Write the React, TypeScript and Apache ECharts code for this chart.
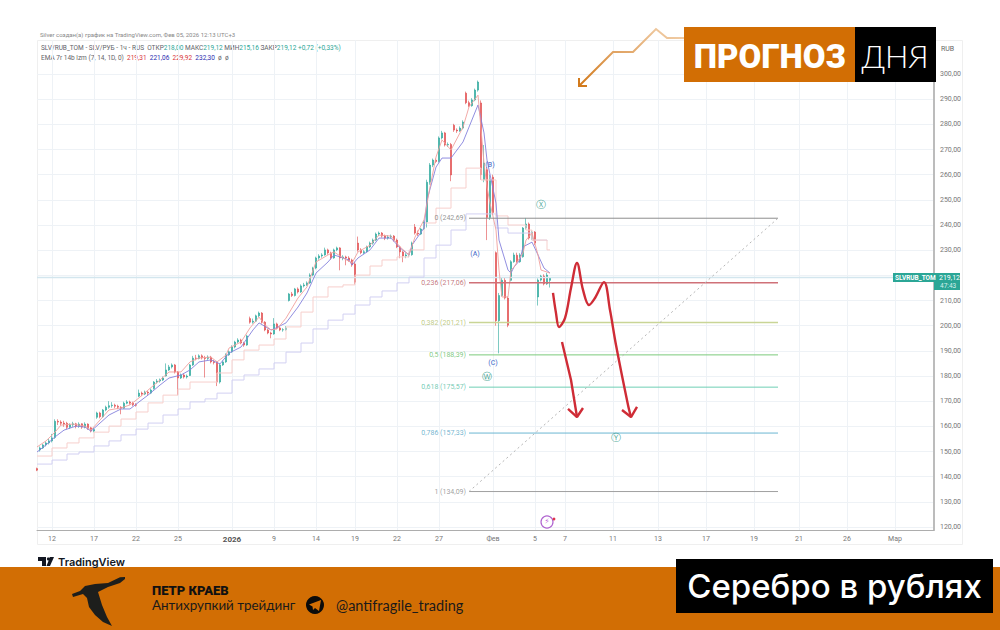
import React, { useEffect, useRef } from "react";
import * as echarts from "echarts";

const BAR_SLOTS = 300;
const tickLabels = ["12", "17", "22", "25", "2026", "9", "14", "19", "22", "27", "Фев", "5", "7", "11", "13", "17", "19", "21", "26", "Мар"];
const tickBars = [5, 19, 33, 47, 65, 79, 93, 106, 120, 134, 152, 166, 176, 192, 207, 223, 239, 254, 270, 286];
const priceTicks = [120, 130, 140, 150, 160, 170, 180, 190, 200, 210, 220, 230, 240, 250, 260, 270, 280, 290, 300];
const hiddenPriceLabel = 220; // covered by the price tag in the reference

// [open, close, low, high]
const decemberCandles = [
  [143.2,142.6,142.2,143.6],[150.6,151.4,150.0,152.0],[151.4,152.6,151.0,153.0],[152.6,153.4,152.0,154.0],[153.4,154.2,152.8,155.0],
  [154.2,155.4,153.6,157.0],[155.6,162.0,155.0,162.8],[162.0,161.7,160.5,162.8],[161.7,161.2,160.4,162.4],[161.3,160.9,159.8,162.2],
  [161.2,159.6,158.8,161.8],[159.6,160.6,159.0,161.2],[160.6,161.0,159.8,161.8],[161.0,160.0,159.2,161.4],[160.0,160.9,159.4,161.6],
  [161.0,159.7,159.0,161.2],[159.7,160.9,159.2,161.6],[160.9,159.4,158.6,161.2],[159.4,158.1,157.6,159.8],[158.1,158.7,157.6,159.4],
  [163.6,165.3,163.0,165.8],[165.3,163.8,163.2,165.8],[163.8,166.5,163.4,166.9],[166.5,167.6,166.0,168.2],[167.6,168.2,167.0,170.0],
  [168.2,168.4,167.4,169.6],[168.4,168.0,167.2,169.0],[168.0,167.6,166.8,168.6],[167.6,167.2,164.8,168.0],[167.2,169.2,167.0,169.8],
  [169.2,169.7,168.8,170.4],[169.7,169.2,168.6,170.2],[169.2,168.6,168.0,169.8],[168.6,168.4,167.8,169.2],[172.0,173.2,171.6,174.6],
  [173.2,172.8,172.0,173.8],[172.8,173.6,172.4,174.2],[173.6,173.2,172.4,174.0],[173.2,174.4,172.8,175.0],[175.0,177.6,174.6,178.0],
  [177.6,178.0,177.0,178.8],[178.0,178.4,177.4,179.0],[178.4,179.2,178.0,179.8],[180.0,182.4,179.8,185.0],[182.4,183.6,182.0,184.4],
  [183.6,184.4,183.0,185.0],[184.4,181.6,181.0,184.8],[181.6,179.2,172.4,182.0],[179.2,180.4,178.8,181.0],[180.4,179.6,179.0,181.0],
  [179.6,180.0,179.0,180.6],[180.2,184.4,180.0,184.8],[184.4,187.1,184.0,188.0],[187.1,187.0,186.2,188.4],[187.0,188.0,186.6,188.6],
  [188.0,187.2,186.6,188.6],[187.2,187.0,179.4,188.0],[187.0,187.5,186.4,188.2],[187.5,185.6,185.0,188.0],[185.6,185.4,184.6,186.4],
  [185.4,177.6,176.0,186.0],[177.6,184.4,177.0,185.0],[184.4,185.6,184.0,186.2],[185.6,188.4,185.2,189.0],[188.4,189.6,188.0,190.2],
];
const januaryCandles = [
  [189.6,191.5,189.2,192.2],[191.5,193.5,191.0,194.0],[193.5,194.3,193.0,195.0],[194.3,193.1,192.6,194.8],[193.1,192.3,191.6,193.6],
  [192.3,195.9,192.0,196.4],[202.8,201.4,200.8,203.6],[201.4,201.8,200.8,202.8],[201.8,203.9,201.4,204.4],[203.9,205.0,203.4,205.6],
  [205.0,201.4,200.8,205.4],[201.4,198.3,197.8,201.8],[198.3,197.1,196.6,198.8],[197.1,196.7,195.0,197.6],[196.7,200.7,196.4,203.0],
  [200.7,199.1,198.6,201.2],[199.1,198.3,197.8,199.6],[198.3,198.4,197.6,199.0],[198.4,199.1,198.0,199.8],[210.0,212.6,209.6,213.0],
  [212.6,212.0,211.4,213.4],[212.0,214.6,211.6,215.0],[214.6,213.4,212.8,215.2],[213.4,215.8,213.0,216.4],[215.8,216.2,215.2,217.0],
  [216.2,217.0,215.8,217.6],[217.0,220.1,216.6,220.8],[220.1,222.9,219.6,223.4],[222.9,226.9,222.4,227.4],[226.9,227.7,226.2,228.4],
  [227.7,228.1,227.0,228.8],[228.1,230.1,227.8,231.0],[230.1,228.9,228.2,230.6],[228.9,226.9,226.2,229.4],[226.9,230.1,226.6,230.6],
  [230.1,230.9,229.6,231.4],[230.9,226.9,222.0,231.2],[226.9,227.3,226.0,228.0],[227.3,226.9,224.0,227.8],[226.9,226.1,225.4,227.6],
  [226.1,224.1,223.4,226.6],[224.5,217.3,216.4,225.4],[232.8,230.1,229.4,235.4],[230.1,229.0,228.4,230.8],[229.0,229.4,228.4,230.0],
  [229.4,231.3,229.0,231.8],[231.3,232.8,230.8,233.4],[232.8,234.0,232.2,234.6],[234.0,236.4,233.6,237.0],[236.4,236.8,235.6,237.4],
  [236.8,235.6,235.0,237.2],[235.6,234.8,234.0,236.2],[234.8,235.2,234.2,236.0],[235.2,235.6,234.6,236.2],[235.6,234.0,233.4,236.0],
  [234.0,231.3,230.8,234.6],[231.3,229.3,226.8,231.8],[229.3,227.7,225.2,229.8],[227.7,228.1,226.8,228.8],[228.1,228.2,227.2,229.0],
  [228.2,232.8,227.8,233.4],[239.2,236.8,236.2,240.4],[236.8,236.4,235.6,237.8],[236.4,238.4,236.0,238.8],[238.4,241.2,238.0,241.8],
  [241.2,257.0,239.0,258.0],[257.0,263.8,256.0,264.6],[263.8,265.8,263.0,266.4],[265.8,265.2,264.6,266.4],[265.2,274.6,264.8,275.2],
  [274.6,276.6,274.0,277.4],[276.6,271.8,271.2,277.0],[271.8,272.0,271.0,272.8],[272.0,259.9,257.4,272.6],[279.6,277.7,277.0,280.2],
  [277.7,277.4,276.6,278.4],[277.4,278.5,277.0,279.2],[278.5,280.9,278.0,281.6],[292.4,288.6,288.0,293.0],[288.6,287.4,286.8,289.4],
  [287.4,289.7,287.0,290.4],[289.7,293.6,289.2,294.2],[293.6,296.8,293.0,297.4],
];
const februaryCandles = [
  [288.5,260.0,258.0,289.5],[258.0,264.6,257.0,271.8],[262.0,243.0,234.0,263.0],[243.0,258.0,242.0,260.0],[259.0,245.0,244.0,260.0],
  [229.0,202.0,200.0,229.5],[202.0,212.0,189.0,213.0],[212.0,218.0,211.6,219.0],[218.0,211.0,210.4,219.0],[211.0,200.2,199.4,211.6],
  [218.0,225.4,217.6,226.0],[225.4,228.1,225.0,229.0],[228.0,225.4,224.8,229.0],[225.4,228.1,225.0,228.8],[227.4,238.8,227.0,239.2],
  [238.8,240.4,238.2,242.8],[240.4,234.8,234.2,241.0],[234.4,237.2,234.0,237.8],[237.2,232.8,232.0,237.6],[211.4,218.1,208.0,218.8],
  [218.1,219.7,217.6,220.2],[219.7,216.6,216.0,220.4],[216.6,220.1,216.2,221.0],[218.0,219.12,215.16,219.12],
];

// [bar, price]
const emaFast = [
  [0,151.8],[3,154.2],[6,157.7],[8,160.5],[12,160.9],[16,160.1],[18,158.5],[21,162.5],[24,166.5],[28,167.3],[31,168.5],[34,171.3],[37,174.4],
  [41,178.4],[44,181.6],[48,181.6],[51,185.6],[54,187.2],[58,187.5],[60,185.6],[63,188.3],[64,191.1],[68,193.5],[71,199.1],[74,203.4],[76,200.3],
  [78,198.3],[80,198.7],[83,203.0],[87,211.0],[90,215.4],[93,225.3],[97,228.1],[99,229.3],[102,226.9],[105,224.9],[107,229.3],[111,232.0],[114,236.0],
  [118,235.6],[121,231.3],[124,228.1],[126,235.2],[129,242.0],[131,255.1],[133,267.0],[135,273.8],[138,269.8],[142,278.9],[144,286.9],[147,291.6],
  [149,264.6],[150,255.1],[151,248.7],[153,238.0],[154,222.1],[155,211.4],[157,211.4],[158,222.1],[159,223.3],[162,228.9],[163,234.0],[165,236.8],
  [167,228.1],[168,222.1],[171,220.9],
];
const emaSlow = [
  [0,149.8],[3,152.6],[6,155.8],[9,158.5],[13,160.1],[16,159.7],[18,158.1],[21,161.3],[24,164.5],[28,166.9],[31,166.9],[34,169.7],[37,172.4],
  [41,176.4],[44,179.2],[48,180.4],[51,182.4],[54,185.6],[58,186.4],[61,184.8],[64,189.1],[68,191.5],[72,198.3],[74,201.1],[78,198.3],[79,198.7],
  [83,201.1],[87,207.4],[90,213.0],[93,220.9],[97,225.3],[99,228.1],[104,226.1],[105,224.1],[107,226.9],[111,230.1],[114,234.8],[118,234.8],[121,230.9],
  [124,228.1],[125,232.0],[129,238.8],[130,249.9],[133,263.0],[135,266.6],[138,266.6],[142,273.0],[144,278.9],[147,287.7],[149,276.6],[150,265.8],
  [153,248.7],[154,234.0],[157,222.1],[158,220.9],[159,223.3],[161,226.1],[162,231.3],[165,233.2],[167,228.1],[169,222.9],[171,220.9],
];
const stepWeekly = [
  [0,148.2],[5,151.4],[10,153.4],[14,155.4],[19,157.7],[24,160.1],[28,162.9],[33,165.7],[37,169.3],[42,172.4],[47,174.8],[51,177.6],[60,181.2],[65,186.4],
  [69,190.3],[74,192.3],[79,194.7],[83,199.5],[88,205.4],[92,211.4],[97,215.4],[102,216.2],[106,220.1],[111,223.7],[115,226.1],[120,227.3],[124,230.1],
  [129,240.8],[133,246.7],[138,254.7],[143,262.6],[148,257.9],[153,243.6],[157,240.0],[163,238.0],[165,234.0],[170,230.1],[171,230.1],
];
const stepMonthly = [
  [0,145.0],[5,146.6],[10,149.0],[14,149.8],[19,152.2],[24,154.2],[28,156.6],[33,158.9],[37,161.3],[42,164.5],[47,166.9],[51,169.7],[56,170.9],[60,173.2],[65,178.4],
  [69,180.4],[74,182.8],[79,185.2],[83,189.5],[88,193.1],[92,198.7],[97,202.2],[102,204.6],[106,208.2],[111,211.4],[115,213.8],[120,217.0],[124,219.3],
  [129,226.9],[133,232.0],[138,238.0],[143,244.4],[153,238.8],[157,236.8],[165,234.0],[170,233.6],
];

const fibRatios = ["0", "0,236", "0,382", "0,5", "0,618", "0,786", "1"];
const fibPrices = [242.69, 217.06, 201.21, 188.39, 175.57, 157.33, 134.09];
const fibColors = ["#8e8e8e", "#cf7178", "#c9d596", "#7ccb7c", "#6fcfb4", "#6cb6d2", "#a0a0a0"];
const fibLabelColors = ["#777777", "#b4535b", "#aebb63", "#62bb62", "#4fbd9f", "#4fa3c4", "#888888"];
const fibStartBar = 144;
const fibEndBar = 247;
const lastPrice = 219.12;

const forecastCurve = [[172,213.0],[173,205.0],[174,199.5],[176,203.0],[178,215.0],[180,224.9],[182,214.2],[184,208.2],[186,211.0],[189,217.3],[191,206.2],[193,192.3],[197,168.5],[198,163.7]];
const forecastCurveHead = [[195,166.5],[198,163.7],[200,167.7]];
const forecastShort = [[175,193.5],[178,178.4],[180,163.7]];
const forecastShortHead = [[177,166.9],[180,163.7],[182,167.3]];

const waveLetters = [["(A)", 146, 228.5], ["(B)", 151, 263.8], ["(C)", 152, 185.2]];
const waveCircled = [["Ⓦ", 150, 180.0], ["Ⓧ", 168, 248.0], ["Ⓨ", 193, 155.4]];
const eventMark = [170, 122.0];

const legendTitle = "SLV/RUB_TOM - SLV/РУБ - 1ч - RUS";
const legendOhlc = ["218,00", "219,12", "215,16", "219,12", "+0,72 (+0,33%)"];
const legendEma = ["219,31", "221,06", "229,92", "232,30"];

const ORANGE = "#d26e04";

function line(name: string, data: number[][], color: string, width: number, extra: object = {}) {
  return { name, type: "line", data, symbol: "none", silent: true, lineStyle: { color, width }, ...extra };
}

export default function App() {
  const ref = useRef<HTMLDivElement>(null);
  useEffect(() => {
    document.body.style.margin = "0";
    document.body.style.background = "#fff";
    const chart = echarts.init(ref.current!, undefined, { renderer: "svg" });
    const categories = Array.from({ length: BAR_SLOTS }, () => "");
    tickBars.forEach((b, k) => (categories[b] = tickLabels[k]));
    const isTick = (i: number) => categories[i] !== "";
    const candles = [...decemberCandles, ...januaryCandles, ...februaryCandles];
    const fibSeries = fibPrices.map((p, k) =>
      line("fib" + k, [[fibStartBar, p], [fibEndBar, p]], fibColors[k], k === 1 || k === 2 ? 1.5 : 1, { z: 3 })
    );
    const f = { fontFamily: "Roboto", fontSize: 6.5 };
    chart.setOption({
      animation: false,
      backgroundColor: "#ffffff",
      grid: { left: 37, top: 40, width: 897, height: 490, containLabel: false },
      xAxis: {
        type: "category",
        data: categories,
        boundaryGap: false,
        axisTick: { show: false },
        axisLine: { show: true, lineStyle: { color: "#adadad", width: 1 } },
        axisLabel: {
          interval: (i: number) => isTick(i),
          margin: 5,
          color: "#777",
          fontFamily: "Roboto",
          fontSize: 7,
          formatter: (v: string) => (v === "2026" ? "{b|2026}" : v),
          rich: { b: { fontWeight: "bold", fontSize: 8, color: "#555", fontFamily: "Roboto" } },
        },
        splitLine: { show: true, interval: (i: number) => isTick(i), lineStyle: { color: "#eef2f6", width: 1 } },
      },
      yAxis: {
        type: "value",
        position: "right",
        min: 118.81,
        max: 313.51,
        axisLine: { show: true, lineStyle: { color: "#bcbcbc", width: 2 } },
        axisTick: { show: false, customValues: priceTicks },
        axisLabel: {
          customValues: priceTicks.filter((v) => v !== hiddenPriceLabel),
          margin: 6,
          color: "#777",
          fontFamily: "Roboto",
          fontSize: 7,
          formatter: (v: number) => v.toFixed(2).replace(".", ","),
        },
        splitLine: { show: true, lineStyle: { color: "#eef2f6", width: 1 } },
      },
      series: [
        line("last", [[0, lastPrice], [BAR_SLOTS - 1, lastPrice]], "#d3e6ee", 1.5),
        line("stepMonthly", stepMonthly, "#d2d0f2", 1, { step: "end" }),
        line("stepWeekly", stepWeekly, "#f7cfcc", 1, { step: "end" }),
        {
          name: "SLV",
          type: "candlestick",
          data: candles,
          barWidth: 1.6,
          silent: true,
          z: 2,
          itemStyle: { color: "#26a69a", color0: "#e0484a", borderColor: "#26a69a", borderColor0: "#e0484a", borderWidth: 0.6 },
        },
        line("emaSlow", emaSlow, "#8481dc", 0.9, { z: 3 }),
        line("emaFast", emaFast, "#f0a09d", 0.9, { z: 3 }),
        ...fibSeries,
        line("diagonal", [[fibStartBar, fibPrices[6]], [fibEndBar, fibPrices[0]]], "#b5b5b5", 1, { z: 3, lineStyle: { color: "#b5b5b5", width: 1, type: [2, 3] } }),
        {
          name: "fibLabels",
          type: "scatter",
          symbolSize: 0,
          silent: true,
          z: 4,
          data: fibPrices.map((p, k) => ({
            value: [fibStartBar, p],
            label: {
              show: true,
              position: "left",
              distance: 3,
              color: fibLabelColors[k],
              fontFamily: "Roboto",
              fontSize: 7,
              formatter: `${fibRatios[k]} (${p.toFixed(2).replace(".", ",")})`,
            },
          })),
        },
        {
          name: "waves",
          type: "scatter",
          symbolSize: 0,
          silent: true,
          z: 5,
          data: waveLetters.map((w) => ({
            value: [w[1], w[2]],
            label: { show: true, position: "inside", color: "#2f5cc4", fontFamily: "Roboto", fontWeight: 500, fontSize: 7, formatter: String(w[0]) },
          })),
        },
        {
          name: "wavesCircled",
          type: "scatter",
          symbolSize: 0,
          silent: true,
          z: 5,
          data: waveCircled.map((w) => ({
            value: [w[1], w[2]],
            label: { show: true, position: "inside", color: "#138f7c", fontFamily: "DejaVu Sans", fontSize: 10, formatter: String(w[0]) },
          })),
        },
        {
          name: "event",
          type: "scatter",
          symbolSize: 12,
          silent: true,
          z: 5,
          itemStyle: { color: "#ffffff", borderColor: "#9c3fc4", borderWidth: 1.2 },
          label: { show: true, position: "inside", color: "#b040d0", fontFamily: "DejaVu Sans", fontSize: 8, formatter: "⚡" },
          data: [eventMark],
        },
        line("forecastCurve", forecastCurve, "#cf2c36", 2.4, { smooth: 0.35, z: 6 }),
        line("forecastCurveHead", forecastCurveHead, "#cf2c36", 2.4, { z: 6 }),
        line("forecastShort", forecastShort, "#cf2c36", 2.4, { z: 6 }),
        line("forecastShortHead", forecastShortHead, "#cf2c36", 2.4, { z: 6 }),
      ],
      graphic: [
        { type: "rect", silent: true, z: 0, shape: { x: 37.5, y: 40.5, width: 925, height: 504 }, style: { fill: "none", stroke: "#efefef", lineWidth: 1 } },
        { type: "text", silent: true, x: 40, y: 31, style: { text: "Silver создан(а) график на TradingView.com, Фев 05, 2026 12:13 UTC+3", fill: "#888", font: "6px Roboto" } },
        {
          type: "text", silent: true, x: 41, y: 44,
          style: {
            text: `{g|${legendTitle}  ОТКР}{t|${legendOhlc[0]}} {g|МАКС}{t|${legendOhlc[1]}} {g|МИН}{t|${legendOhlc[2]}} {g|ЗАКР}{t|${legendOhlc[3]}} {t|${legendOhlc[4]}}`,
            rich: { g: { fill: "#5f6368", ...f }, t: { fill: "#2ba696", ...f } },
            ...f,
          },
        },
        {
          type: "text", silent: true, x: 41, y: 54,
          style: {
            text: `{g|EMA 7r 14b lzm (7, 14, 1D, 0)}  {r|${legendEma[0]}}  {b|${legendEma[1]}}  {r|${legendEma[2]}}  {b|${legendEma[3]}}  {g|ø  ø}`,
            rich: { g: { fill: "#5f6368", ...f }, r: { fill: "#d8333a", ...f }, b: { fill: "#2c2cb0", ...f } },
            ...f,
          },
        },
        { type: "text", silent: true, x: 941, y: 45, style: { text: "RUB", fill: "#666", font: "7px Roboto" } },
        { type: "rect", silent: true, z: 20, shape: { x: 893, y: 273, width: 41, height: 9 }, style: { fill: "#2ba696" } },
        { type: "text", silent: true, z: 21, x: 895, y: 274.5, style: { text: "SLVRUB_TOM", fill: "#fff", font: "bold 6.5px Roboto" } },
        { type: "rect", silent: true, z: 20, shape: { x: 934, y: 273, width: 26, height: 17 }, style: { fill: "#2ba696" } },
        { type: "text", silent: true, z: 21, x: 939, y: 274, style: { text: "219,12", fill: "#fff", font: "7px Roboto" } },
        { type: "text", silent: true, z: 21, x: 940, y: 282, style: { text: "47:43", fill: "#d5f0ec", font: "6.5px Roboto" } },
        { type: "circle", silent: true, z: 21, shape: { cx: 554, cy: 519, r: 1.4 }, style: { fill: "#e0334a" } },
        {
          type: "polyline", silent: true, z: 15,
          shape: { points: [[580, 85], [613, 52], [633, 52], [656, 29], [667, 38], [685, 38]] },
          style: {
            fill: "none", lineWidth: 2,
            stroke: new echarts.graphic.LinearGradient(0, 1, 1, 0, [
              { offset: 0, color: "#d27a1c" },
              { offset: 0.5, color: "#e2a769" },
              { offset: 1, color: "#f3d3b0" },
            ]),
          },
        },
        { type: "polyline", silent: true, z: 15, shape: { points: [[579, 78], [579, 86], [587, 86]] }, style: { fill: "none", stroke: "#d27a1c", lineWidth: 2 } },
        { type: "rect", silent: true, z: 16, shape: { x: 684, y: 27, width: 171, height: 55 }, style: { fill: ORANGE } },
        { type: "rect", silent: true, z: 16, shape: { x: 855, y: 27, width: 81, height: 55 }, style: { fill: "#000" } },
        { type: "text", silent: true, z: 17, x: 770, y: 56, style: { text: "ПРОГНОЗ", fill: "#fff", font: "900 33px Roboto", align: "center", verticalAlign: "middle" } },
        { type: "text", silent: true, z: 17, x: 895, y: 56, style: { text: "ДНЯ", fill: "#fff", font: "300 31px Lato", align: "center", verticalAlign: "middle" } },
        { type: "polygon", silent: true, z: 17, shape: { points: [[38, 557], [46, 557], [46, 566], [42, 566], [42, 561], [38, 561]] }, style: { fill: "#131722" } },
        { type: "circle", silent: true, z: 17, shape: { cx: 48.5, cy: 559, r: 1.6 }, style: { fill: "#131722" } },
        { type: "polygon", silent: true, z: 17, shape: { points: [[50, 557], [54, 557], [50, 566], [46.5, 566]] }, style: { fill: "#131722" } },
        { type: "text", silent: true, z: 17, x: 58, y: 561.5, style: { text: "TradingView", fill: "#131722", font: "600 11px Inter", verticalAlign: "middle" } },
        { type: "rect", silent: true, z: 16, shape: { x: 0, y: 567, width: 1000, height: 63 }, style: { fill: ORANGE } },
        {
          type: "polygon", silent: true, z: 17,
          shape: { points: [[125, 577], [120, 577.3], [108, 583], [95, 584], [85, 586], [80, 591], [72, 594], [73, 597], [83, 594], [87, 598], [89, 607], [95, 615], [103, 622], [112, 626], [107, 617], [102, 605], [98, 592], [108, 587], [120, 583], [125, 579]] },
          style: { fill: "#1d1e1c" },
        },
        { type: "text", silent: true, z: 17, x: 152, y: 590, style: { text: "ПЕТР КРАЕВ", fill: "#111", font: "900 13px Roboto", verticalAlign: "middle" } },
        { type: "text", silent: true, z: 17, x: 152, y: 605, style: { text: "Антихрупкий трейдинг", fill: "#1a1a1a", font: "13.4px Lato", verticalAlign: "middle" } },
        { type: "circle", silent: true, z: 17, shape: { cx: 315, cy: 605, r: 9 }, style: { fill: "#0b0b0b" } },
        { type: "polygon", silent: true, z: 18, shape: { points: [[309, 604.5], [321, 600], [319, 611], [315, 608], [313, 610], [312.5, 606.5]] }, style: { fill: ORANGE } },
        { type: "text", silent: true, z: 17, x: 336, y: 605, style: { text: "@antifragile_trading", fill: "#1a1a1a", font: "14.5px Lato", verticalAlign: "middle" } },
        { type: "rect", silent: true, z: 18, shape: { x: 676, y: 559, width: 317, height: 54 }, style: { fill: "#000" } },
        { type: "text", silent: true, z: 19, x: 834.5, y: 586, style: { text: "Серебро в рублях", fill: "#fff", font: "500 33px Inter", align: "center", verticalAlign: "middle" } },
      ],
    });
    return () => chart.dispose();
  }, []);
  return <div ref={ref} style={{ width: 1000, height: 630 }} />;
}
